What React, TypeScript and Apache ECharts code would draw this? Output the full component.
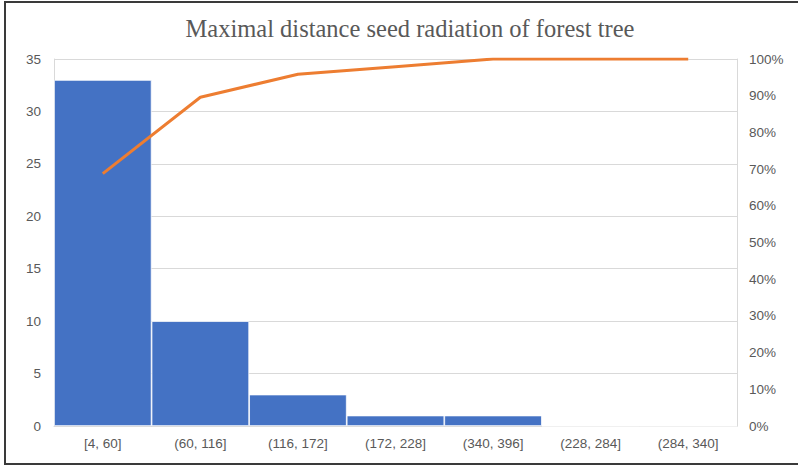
import React, { useEffect, useRef } from "react";
import * as echarts from "echarts";

const categories = ["[4, 60]", "(60, 116]", "(116, 172]", "(172, 228]", "(340, 396]", "(228, 284]", "(284, 340]"];
const counts = [33, 10, 3, 1, 1, 0, 0];
const cumulative = [0.6875, 0.8958, 0.9583, 0.9792, 1, 1, 1];
const leftTicks = { min: 0, max: 35, interval: 5 };
const rightTicks = { min: 0, max: 1, interval: 0.1 };

const labelFont = "'Liberation Sans Narrow', 'Liberation Sans', sans-serif";

export default function App() {
  const ref = useRef<HTMLDivElement>(null);
  useEffect(() => {
    document.body.style.margin = "0";
    const chart = echarts.init(ref.current!, null, { renderer: "svg" });
    chart.setOption({
      animation: false,
      backgroundColor: "#ffffff",
      title: {
        text: "Maximal distance seed radiation of forest tree",
        left: 405,
        top: 11,
        textAlign: "center",
        textStyle: {
          fontFamily: "'Liberation Serif', 'Times New Roman', serif",
          fontWeight: "normal",
          fontSize: 24.5,
          color: "#595959",
        },
      },
      grid: { left: 54, right: 61, top: 59, bottom: 42, containLabel: false },
      xAxis: {
        type: "category",
        data: categories,
        axisTick: { show: false },
        axisLine: { show: true, lineStyle: { color: "#D9D9D9", width: 1 } },
        axisLabel: { color: "#595959", fontFamily: labelFont, fontSize: 13.5, margin: 10 },
      },
      yAxis: [
        {
          type: "value",
          ...leftTicks,
          position: "left",
          axisLine: { show: true, lineStyle: { color: "#D9D9D9" } },
          axisTick: { show: false },
          splitLine: { show: true, lineStyle: { color: "#D9D9D9" } },
          axisLabel: { color: "#595959", fontFamily: labelFont, fontSize: 13.5, margin: 13 },
        },
        {
          type: "value",
          ...rightTicks,
          position: "right",
          axisLine: { show: true, lineStyle: { color: "#D9D9D9" } },
          axisTick: { show: false },
          splitLine: { show: false },
          axisLabel: {
            color: "#595959",
            fontFamily: labelFont,
            fontSize: 13.5,
            margin: 12,
            formatter: (v: number) => Math.round(v * 100) + "%",
          },
        },
      ],
      series: [
        {
          type: "bar",
          data: counts,
          barCategoryGap: "0%",
          itemStyle: { color: "#4472C4", borderColor: "#ffffff", borderWidth: 0.75 },
        },
        {
          type: "line",
          yAxisIndex: 1,
          data: cumulative,
          symbol: "none",
          lineStyle: { color: "#ED7D31", width: 3 },
        },
      ],
    });
    return () => chart.dispose();
  }, []);
  return (
    <div style={{ position: "fixed", left: 0, top: 0, width: 798, height: 468, background: "#fff" }}>
      <div ref={ref} style={{ position: "absolute", left: 0, top: 0, width: 798, height: 468 }} />
      <div
        style={{
          position: "absolute",
          left: 4,
          top: 1,
          width: 800,
          height: 464,
          border: "2px solid #3a3a3a",
          pointerEvents: "none",
          boxSizing: "border-box",
        }}
      />
    </div>
  );
}
